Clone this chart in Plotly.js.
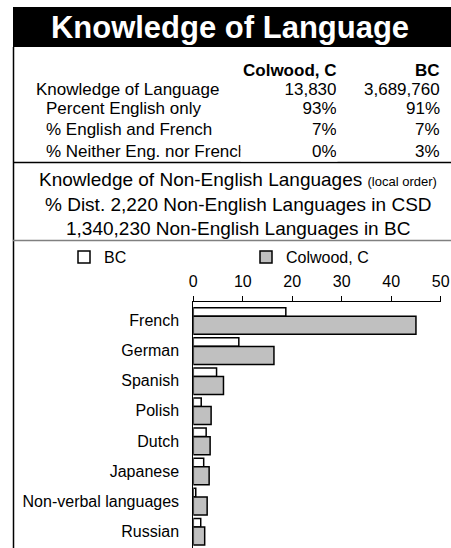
<!DOCTYPE html>
<html>
<head>
<meta charset="utf-8">
<script src="https://cdn.plot.ly/plotly-3.0.1.min.js"></script>
<style>html,body{margin:0;padding:0;background:#fff;}#chart{width:451px;height:548px;}</style>
</head>
<body>
<div id="chart"></div>
<script>
// ---- data ----
const titleText = "Knowledge of Language";
const seriesNames = ["BC", "Colwood, C"];
const categories = ["French", "German", "Spanish", "Polish", "Dutch", "Japanese", "Non-verbal languages", "Russian"];
const bcValues = [18.7, 9.2, 4.7, 1.6, 2.6, 2.1, 0.5, 1.5];
const colwoodValues = [45.0, 16.3, 6.1, 3.6, 3.4, 3.2, 2.8, 2.3];
const xTicks = [0, 10, 20, 30, 40, 50];
const tableRowLabels = ["Knowledge of Language", "Percent English only", "% English and French", "% Neither Eng. nor French"];
const tableColwood = ["13,830", "93%", "7%", "0%"];
const tableBC = ["3,689,760", "91%", "7%", "3%"];
const subtitleMain = "Knowledge of Non-English Languages";
const subtitleNote = "(local order)";
const subtitleLine2 = "% Dist. 2,220 Non-English Languages in CSD";
const subtitleLine3 = "1,340,230 Non-English Languages in BC";

// ---- layout helpers ----
const W = 451, H = 548;
const px = v => v / W;
const py = v => 1 - v / H;
const FONT = "Liberation Sans, Arial, sans-serif";

const traces = [
  {
    type: "bar", orientation: "h", name: seriesNames[0], legend: "legend",
    y: categories, x: bcValues,
    width: 0.282, offset: -0.425,
    marker: { color: "#ffffff", line: { color: "#000000", width: 1.5 } },
    hoverinfo: "x+y"
  },
  {
    type: "bar", orientation: "h", name: seriesNames[1], legend: "legend2",
    y: categories, x: colwoodValues,
    width: 0.598, offset: -0.140,
    marker: { color: "#c0c0c0", line: { color: "#000000", width: 1.5 } },
    hoverinfo: "x+y"
  }
];

const annotations = [];
// table header
annotations.push({ text: "<b>" + seriesNames[1] + "</b>", x: px(338), y: py(71), xanchor: "right", yanchor: "middle" });
annotations.push({ text: "<b>" + seriesNames[0] + "</b>", x: px(442), y: py(71), xanchor: "right", yanchor: "middle" });
const rowY = [89, 109, 129, 151];
const rowX = [35, 45, 45, 45];
tableRowLabels.forEach((lab, i) => {
  annotations.push({ text: lab, x: px(rowX[i]), y: py(rowY[i]), xanchor: "left", yanchor: "middle", align: "left", borderpad: 0 });
});
tableRowLabels.forEach((lab, i) => {
  // value cells; their white box also trims the overflowing row label, as in a spreadsheet cell
  annotations.push({ text: tableColwood[i], x: px(338), y: py(rowY[i]), xanchor: "right", yanchor: "middle",
    align: "right", width: 95.5, height: 19, borderpad: 0, bgcolor: "#ffffff" });
  annotations.push({ text: tableBC[i], x: px(442), y: py(rowY[i]), xanchor: "right", yanchor: "middle" });
});
annotations.forEach(a => { a.xref = "paper"; a.yref = "paper"; a.showarrow = false; a.font = { family: FONT, size: 17, color: "#000" }; });

const sub = [
  { text: subtitleMain + " <span style=\"font-size:13px\">" + subtitleNote + "</span>", y: 180 },
  { text: subtitleLine2, y: 204 },
  { text: subtitleLine3, y: 228 }
];
sub.forEach(s => annotations.push({
  text: s.text, xref: "paper", yref: "paper", x: px(238), y: py(s.y),
  xanchor: "center", yanchor: "middle", showarrow: false,
  font: { family: FONT, size: 19, color: "#000" }
}));

const shapes = [
  { type: "rect", xref: "paper", yref: "paper", x0: px(13), x1: 1, y0: py(47), y1: py(7), fillcolor: "#000", line: { width: 0 }, layer: "below" },
  { type: "line", xref: "paper", yref: "paper", x0: px(13.5), x1: px(13.5), y0: py(47), y1: 0, line: { color: "#000", width: 1.5 } },
  { type: "line", xref: "paper", yref: "paper", x0: px(13), x1: 1, y0: py(162.5), y1: py(162.5), line: { color: "#000", width: 1.5 } },
  { type: "line", xref: "paper", yref: "paper", x0: px(13), x1: 1, y0: py(240.5), y1: py(240.5), line: { color: "#808080", width: 1.5 } }
];

const legendBase = {
  orientation: "h", xanchor: "left", yanchor: "middle", y: py(257),
  font: { family: FONT, size: 16, color: "#000" },
  bgcolor: "rgba(0,0,0,0)", itemclick: false, itemdoubleclick: false
};

const layout = {
  width: W, height: H,
  margin: { l: 0, r: 0, t: 0, b: 0, pad: 0 },
  paper_bgcolor: "#fff", plot_bgcolor: "#fff",
  font: { family: FONT, size: 16, color: "#000" },
  title: {
    text: "<b>" + titleText + "</b>",
    font: { family: FONT, size: 31, color: "#fff" },
    x: px(230), xanchor: "center", xref: "paper",
    y: py(27), yanchor: "middle", yref: "paper"
  },
  barmode: "overlay",
  showlegend: true,
  legend: Object.assign({}, legendBase, { x: px(64) }),
  legend2: Object.assign({}, legendBase, { x: px(246) }),
  xaxis: {
    domain: [px(193.3), px(440.7)], range: [0, 50], side: "top", anchor: "y",
    tickvals: xTicks, ticks: "outside", ticklen: 5, tickcolor: "#000", tickwidth: 1,
    ticklabelstandoff: 3,
    showline: true, linecolor: "#000", linewidth: 1,
    showgrid: false, zeroline: false, fixedrange: true,
    tickfont: { family: FONT, size: 16, color: "#000" }
  },
  yaxis: {
    domain: [0, 1 - 302 / H], type: "category", range: [7.558, -0.615], anchor: "x",
    showline: true, linecolor: "#000", linewidth: 1,
    ticks: "", showgrid: false, zeroline: false, fixedrange: true,
    ticklabelstandoff: 10,
    tickfont: { family: FONT, size: 16, color: "#000" }
  },
  annotations: annotations,
  shapes: shapes
};

Plotly.newPlot("chart", traces, layout, { displayModeBar: false, staticPlot: true });
</script>
</body>
</html>
